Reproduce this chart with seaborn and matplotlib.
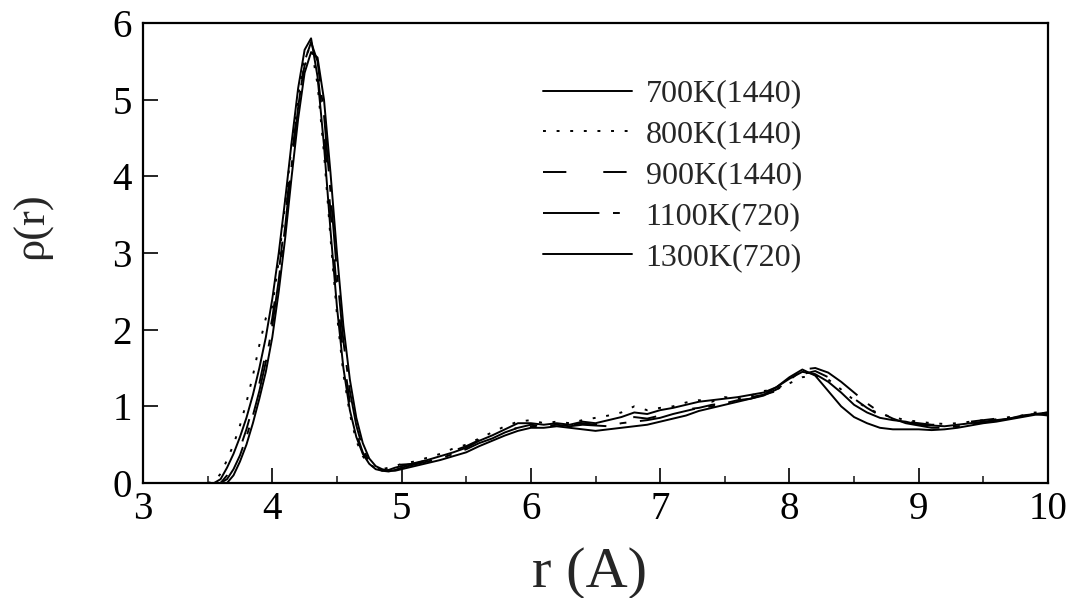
import numpy as np
import pandas as pd
import matplotlib
matplotlib.use('Agg')
import matplotlib.pyplot as plt
from matplotlib.ticker import MultipleLocator
import seaborn as sns

# r grid: 0.05 steps through the first peak, 0.1 steps for the tail
r_vals = [3.50, 3.55, 3.60, 3.65, 3.70, 3.75, 3.80, 3.85, 3.90, 3.95,
          4.00, 4.05, 4.10, 4.15, 4.20, 4.25, 4.30, 4.35, 4.40, 4.45,
          4.50, 4.55, 4.60, 4.65, 4.70, 4.75, 4.80, 4.85, 4.90, 4.95, 5.00,
          5.1, 5.2, 5.3, 5.4, 5.5, 5.6, 5.7, 5.8, 5.9, 6.0,
          6.1, 6.2, 6.3, 6.4, 6.5, 6.6, 6.7, 6.8, 6.9, 7.0,
          7.1, 7.2, 7.3, 7.4, 7.5, 7.6, 7.7, 7.8, 7.9, 8.0,
          8.1, 8.2, 8.3, 8.4, 8.5, 8.6, 8.7, 8.8, 8.9, 9.0,
          9.1, 9.2, 9.3, 9.4, 9.5, 9.6, 9.7, 9.8, 9.9, 10.0]

rho_700 = [0, 0, 0.05, 0.2, 0.38, 0.6, 0.85, 1.15, 1.5, 1.9,
           2.4, 3.0, 3.7, 4.45, 5.15, 5.65, 5.8, 5.3, 4.4, 3.3,
           2.3, 1.5, 0.95, 0.6, 0.38, 0.25, 0.18, 0.16, 0.17, 0.2, 0.22,
           0.26, 0.30, 0.35, 0.40, 0.46, 0.55, 0.62, 0.70, 0.78, 0.78,
           0.76, 0.78, 0.76, 0.80, 0.78, 0.82, 0.86, 0.92, 0.90, 0.95,
           0.98, 1.02, 1.06, 1.08, 1.10, 1.12, 1.15, 1.18, 1.25, 1.36,
           1.45, 1.42, 1.32, 1.18, 1.02, 0.92, 0.85, 0.82, 0.80, 0.76,
           0.75, 0.74, 0.76, 0.78, 0.80, 0.82, 0.84, 0.88, 0.90, 0.88]

rho_800 = [0, 0.02, 0.12, 0.3, 0.5, 0.75, 1.05, 1.4, 1.8, 2.15,
           2.3, 2.9, 3.65, 4.4, 5.05, 5.55, 5.7, 5.2, 4.3, 3.2,
           2.2, 1.42, 0.9, 0.55, 0.35, 0.24, 0.2, 0.18, 0.2, 0.22, 0.25,
           0.28, 0.33, 0.38, 0.45, 0.50, 0.58, 0.66, 0.74, 0.80, 0.82,
           0.78, 0.80, 0.78, 0.82, 0.85, 0.88, 0.92, 1.00, 0.95, 0.98,
           1.00, 1.05, 1.08, 1.06, 1.12, 1.10, 1.14, 1.20, 1.22, 1.30,
           1.38, 1.40, 1.35, 1.22, 1.08, 0.98, 0.90, 0.86, 0.82, 0.80,
           0.78, 0.77, 0.78, 0.80, 0.82, 0.83, 0.86, 0.88, 0.92, 0.90]

rho_900 = [0, 0, 0, 0.1, 0.25, 0.45, 0.7, 1.0, 1.3, 1.7,
           2.15, 2.75, 3.45, 4.25, 4.95, 5.45, 5.6, 5.35, 4.6, 3.55,
           2.5, 1.65, 1.05, 0.65, 0.4, 0.26, 0.2, 0.18, 0.2, 0.22, 0.24,
           0.25, 0.30, 0.36, 0.42, 0.48, 0.56, 0.62, 0.68, 0.72, 0.76,
           0.74, 0.76, 0.75, 0.78, 0.76, 0.78, 0.82, 0.86, 0.84, 0.88,
           0.92, 0.96, 0.98, 1.02, 1.04, 1.08, 1.12, 1.15, 1.20, 1.30,
           1.42, 1.46, 1.38, 1.25, 1.10, 0.98, 0.88, 0.84, 0.80, 0.78,
           0.76, 0.76, 0.77, 0.80, 0.82, 0.84, 0.86, 0.88, 0.90, 0.92]

rho_1100 = [0, 0, 0, 0.05, 0.18, 0.36, 0.6, 0.88, 1.2, 1.58,
            2.05, 2.65, 3.35, 4.15, 4.9, 5.5, 5.75, 5.5, 4.8, 3.8,
            2.75, 1.85, 1.2, 0.75, 0.45, 0.28, 0.2, 0.16, 0.15, 0.17, 0.2,
            0.24, 0.28, 0.32, 0.38, 0.44, 0.52, 0.58, 0.66, 0.72, 0.74,
            0.74, 0.76, 0.74, 0.76, 0.75, 0.74, 0.78, 0.80, 0.82, 0.85,
            0.90, 0.94, 0.98, 1.00, 1.04, 1.08, 1.10, 1.14, 1.22, 1.34,
            1.48, 1.50, 1.44, 1.32, 1.18, 1.04, 0.92, 0.84, 0.78, 0.75,
            0.72, 0.72, 0.74, 0.76, 0.79, 0.81, 0.84, 0.87, 0.90, 0.92]

rho_1300 = [0, 0, 0, 0, 0.1, 0.28, 0.5, 0.78, 1.1, 1.45,
            1.9, 2.5, 3.2, 4.0, 4.75, 5.35, 5.62, 5.55, 5.0, 4.05,
            3.0, 2.05, 1.35, 0.85, 0.52, 0.32, 0.22, 0.18, 0.16, 0.16, 0.18,
            0.22, 0.26, 0.30, 0.35, 0.40, 0.48, 0.55, 0.62, 0.68, 0.72,
            0.72, 0.74, 0.72, 0.70, 0.68, 0.70, 0.72, 0.74, 0.76, 0.80,
            0.84, 0.88, 0.94, 0.98, 1.02, 1.06, 1.10, 1.15, 1.25, 1.38,
            1.48, 1.40, 1.20, 1.00, 0.86, 0.78, 0.72, 0.70, 0.70, 0.70,
            0.69, 0.70, 0.72, 0.75, 0.78, 0.80, 0.83, 0.86, 0.89, 0.90]

labels = ['700K(1440)', '800K(1440)', '900K(1440)', '1100K(720)', '1300K(720)']
series = [rho_700, rho_800, rho_900, rho_1100, rho_1300]
styles = ['-', (0, (1.5, 5.5)), (0, (12, 19)), (0, (29, 7, 3.5, 7)), '-']

sns.set_theme(style='ticks')
plt.rcParams['font.family'] = ['Liberation Serif', 'DejaVu Serif']

fig = plt.figure(figsize=(10.73, 5.98), dpi=100)
ax = fig.add_axes([143 / 1073, 115 / 598, 905 / 1073, 460 / 598])

for lab, rho, ls in zip(labels, series, styles):
    df = pd.DataFrame({'r': r_vals, 'rho': rho})
    sns.lineplot(data=df, x='r', y='rho', ax=ax, color='black', lw=1.4,
                 linestyle=ls, label=lab, estimator=None, sort=False)

ax.set_xlim(3, 10)
ax.set_ylim(0, 6)
ax.xaxis.set_major_locator(MultipleLocator(1))
ax.xaxis.set_minor_locator(MultipleLocator(0.5))
ax.yaxis.set_major_locator(MultipleLocator(1))
ax.tick_params(axis='both', which='major', direction='in', length=11, width=1.2,
               labelsize=28, colors='black', top=False, right=False)
ax.tick_params(axis='x', which='minor', direction='in', length=5, width=1.2, top=False)
ax.tick_params(axis='x', pad=6)
ax.tick_params(axis='y', pad=8)

for sp in ax.spines.values():
    sp.set_visible(True)
    sp.set_linewidth(1.6)
    sp.set_color('black')

ax.set_xlabel('r (A)', fontsize=42)
ax.set_ylabel('ρ(r)', fontsize=32)
ax.xaxis.set_label_coords(0.493, -0.14)
ax.yaxis.set_label_coords(-0.10, 0.56)

leg = ax.legend(loc='upper left', bbox_to_anchor=(0.41, 0.94), frameon=False,
                fontsize=23, handlelength=2.8, handletextpad=0.42, labelspacing=0.36)

fig.savefig('out.png', dpi=100)
